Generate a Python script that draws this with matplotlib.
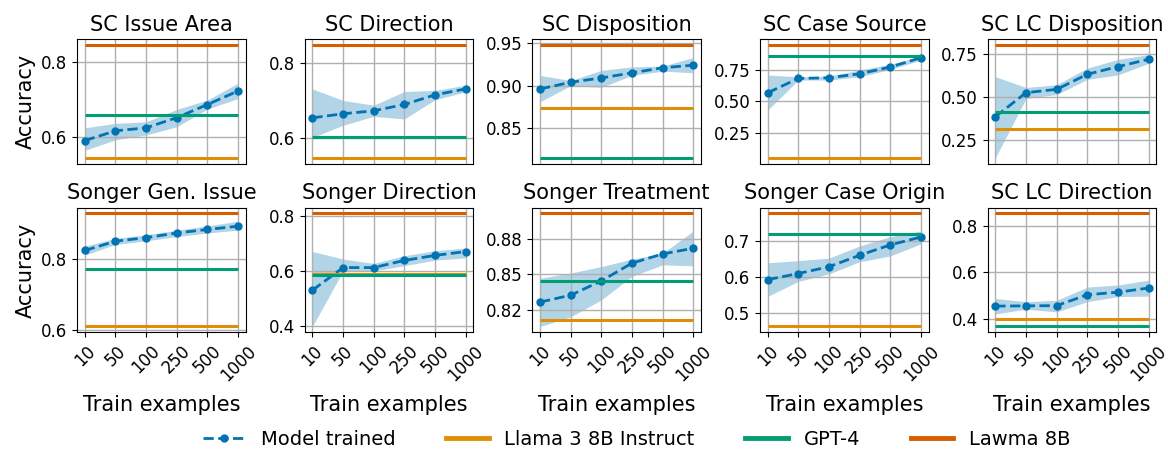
import matplotlib.pyplot as plt
from matplotlib.lines import Line2D

train_sizes = ["10", "50", "100", "250", "500", "1000"]

tasks = ["SC Issue Area", "SC Direction", "SC Disposition", "SC Case Source", "SC LC Disposition",
         "Songer Gen. Issue", "Songer Direction", "Songer Treatment", "Songer Case Origin", "SC LC Direction"]

model_acc = [
    [0.591, 0.617, 0.625, 0.652, 0.687, 0.723],
    [0.653, 0.664, 0.672, 0.689, 0.715, 0.731],
    [0.896, 0.904, 0.909, 0.915, 0.921, 0.924],
    [0.568, 0.683, 0.688, 0.720, 0.774, 0.849],
    [0.383, 0.523, 0.542, 0.630, 0.674, 0.717],
    [0.823, 0.849, 0.859, 0.872, 0.882, 0.891],
    [0.531, 0.613, 0.613, 0.639, 0.657, 0.671],
    [0.8304, 0.8353, 0.8454, 0.8579, 0.8644, 0.8684],
    [0.592, 0.609, 0.628, 0.660, 0.689, 0.711],
    [0.455, 0.456, 0.457, 0.504, 0.515, 0.533],
]
model_low = [
    [0.565, 0.593, 0.606, 0.628, 0.675, 0.703],
    [0.600, 0.633, 0.657, 0.650, 0.702, 0.723],
    [0.881, 0.900, 0.898, 0.912, 0.917, 0.915],
    [0.430, 0.670, 0.670, 0.696, 0.755, 0.830],
    [0.144, 0.489, 0.512, 0.600, 0.626, 0.693],
    [0.810, 0.840, 0.850, 0.862, 0.872, 0.880],
    [0.400, 0.601, 0.601, 0.620, 0.640, 0.648],
    [0.8132, 0.8200, 0.8320, 0.8486, 0.8567, 0.8560],
    [0.545, 0.587, 0.608, 0.642, 0.658, 0.692],
    [0.421, 0.442, 0.430, 0.474, 0.496, 0.498],
]
model_high = [
    [0.625, 0.637, 0.641, 0.674, 0.699, 0.744],
    [0.731, 0.700, 0.687, 0.724, 0.727, 0.741],
    [0.912, 0.906, 0.918, 0.922, 0.923, 0.933],
    [0.710, 0.696, 0.702, 0.750, 0.796, 0.860],
    [0.616, 0.553, 0.569, 0.666, 0.716, 0.744],
    [0.835, 0.857, 0.867, 0.880, 0.892, 0.905],
    [0.671, 0.644, 0.628, 0.656, 0.674, 0.684],
    [0.8473, 0.8509, 0.8555, 0.8607, 0.8649, 0.8806],
    [0.639, 0.645, 0.652, 0.686, 0.712, 0.728],
    [0.488, 0.474, 0.480, 0.537, 0.546, 0.567],
]
llama_acc = [0.545, 0.545, 0.874, 0.047, 0.312, 0.610, 0.591, 0.8175, 0.461, 0.399]
gpt4_acc = [0.658, 0.601, 0.815, 0.860, 0.408, 0.772, 0.586, 0.8455, 0.720, 0.367]
lawma_acc = [0.846, 0.850, 0.948, 0.952, 0.801, 0.927, 0.809, 0.893, 0.777, 0.855]

# ticks do painel Songer Treatment (rotulos com 2 casas)
treatment_ticks = [0.825, 0.85, 0.875]
treatment_labels = ["0.82", "0.85", "0.88"]

azul = "#0173b2"
laranja = "#de8f05"
verde = "#029e73"
vermelho = "#d55e00"

figura, eixos = plt.subplots(2, 5, figsize=(11.68, 4.55), dpi=100)
figura.subplots_adjust(left=0.066, right=0.99, top=0.914, bottom=0.27, wspace=0.35, hspace=0.355)

x = list(range(len(train_sizes)))

for i, ax in enumerate(eixos.flat):
    ax.fill_between(x, model_low[i], model_high[i], color=azul, alpha=0.3, linewidth=0)
    ax.plot(x, model_acc[i], "--o", color=azul, lw=2, markersize=5)
    ax.hlines(llama_acc[i], x[0], x[-1], color=laranja, lw=2.2)
    ax.hlines(gpt4_acc[i], x[0], x[-1], color=verde, lw=2.2)
    ax.hlines(lawma_acc[i], x[0], x[-1], color=vermelho, lw=2.2)
    ax.set_title(tasks[i], fontsize=15)
    ax.grid(True, color="#b0b0b0", lw=1)
    ax.set_xticks(x)
    ax.tick_params(axis="y", labelsize=12)
    if i < 5:
        ax.set_xticklabels([])
        ax.tick_params(axis="x", length=0)
    else:
        ax.set_xticklabels(train_sizes, rotation=45, fontsize=12)
        ax.set_xlabel("Train examples", fontsize=15, labelpad=8)
    if i % 5 == 0:
        ax.set_ylabel("Accuracy", fontsize=15)

eixos[1][2].set_yticks(treatment_ticks)
eixos[1][2].set_yticklabels(treatment_labels)

legenda = [
    Line2D([0], [0], color=azul, ls="--", marker="o", lw=2, markersize=5, label="Model trained"),
    Line2D([0], [0], color=laranja, lw=3.5, label="Llama 3 8B Instruct"),
    Line2D([0], [0], color=verde, lw=3.5, label="GPT-4"),
    Line2D([0], [0], color=vermelho, lw=3.5, label="Lawma 8B"),
]
figura.legend(handles=legenda, loc="lower center", bbox_to_anchor=(0.545, -0.025), ncol=4,
              frameon=False, fontsize=14, columnspacing=2.6, handlelength=2.2)

plt.savefig("out.png")
